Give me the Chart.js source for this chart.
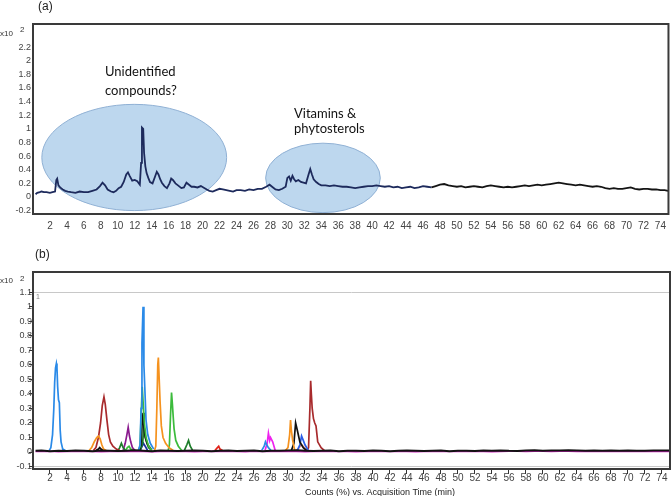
<!DOCTYPE html>
<html><head><meta charset="utf-8">
<script src="https://cdn.jsdelivr.net/npm/chart.js@4/dist/chart.umd.min.js"></script>
<style>
html,body{margin:0;padding:0;background:#fff;}
#wrap{position:relative;width:672px;height:496px;overflow:hidden;}
#c1{position:absolute;left:0;top:0;width:672px;height:240px;}
#c2{position:absolute;left:0;top:240px;width:672px;height:256px;}
</style></head><body>
<div id="wrap"><canvas id="c1" width="672" height="240"></canvas><canvas id="c2" width="672" height="256"></canvas></div>
<script>
// ---------- DATA ----------
const xTickValues=[2,4,6,8,10,12,14,16,18,20,22,24,26,28,30,32,34,36,38,40,42,44,46,48,50,52,54,56,58,60,62,64,66,68,70,72,74];
const topYTickValues=[-0.2,0,0.2,0.4,0.6,0.8,1,1.2,1.4,1.6,1.8,2,2.2];
const botYTickValues=[-0.1,0,0.1,0.2,0.3,0.4,0.5,0.6,0.7,0.8,0.9,1,1.1];

// (a) total ion chromatogram
const topTimes=[0.3,0.5,0.8,1.0,1.3,1.6,2.0,2.3,2.6,2.75,2.85,3.0,3.2,3.5,3.8,4.1,4.5,5.0,5.5,6.0,6.5,7.0,7.5,7.9,8.2,8.5,8.8,9.2,9.5,9.8,10.1,10.4,10.7,11.0,11.2,11.4,11.7,12.0,12.3,12.6,12.75,12.85,13.0,13.1,13.25,13.4,13.6,13.8,14.1,14.4,14.6,14.8,15.0,15.2,15.5,15.8,16.1,16.3,16.5,16.8,17.1,17.5,17.8,18.1,18.4,18.7,19.0,19.4,19.8,20.1,20.5,20.8,21.2,21.6,22.0,22.4,22.8,23.2,23.6,24.0,24.5,25.0,25.5,26.0,26.5,27.0,27.5,27.9,28.2,28.6,29.0,29.4,29.8,30.0,30.2,30.4,30.6,30.8,31.0,31.3,31.6,31.9,32.2,32.5,32.7,32.9,33.1,33.4,33.7,34.0,34.5,35.0,35.5,36.0,36.5,37.0,37.5,38.0,38.5,39.0,39.5,40.0,40.5,41.0,41.5,42.0,42.5,43.0,43.5,44.0,44.5,45.0,45.5,46.0,46.5,47.0,47.5,48.0,48.5,49.0,49.5,50.0,50.5,51.0,51.5,52.0,52.5,53.0,53.5,54.0,54.5,55.0,55.5,56.0,56.5,57.0,57.5,58.0,58.5,59.0,59.5,60.0,60.5,61.0,61.5,62.0,62.5,63.0,63.5,64.0,64.5,65.0,65.5,66.0,66.5,67.0,67.5,68.0,68.5,69.0,69.5,70.0,70.5,71.0,71.5,72.0,72.5,73.0,73.5,74.0,74.5,74.9];
const topValues=[0.04,0.06,0.07,0.08,0.07,0.07,0.06,0.07,0.08,0.25,0.27,0.17,0.14,0.11,0.09,0.08,0.07,0.06,0.08,0.07,0.07,0.09,0.11,0.16,0.21,0.17,0.11,0.08,0.07,0.09,0.13,0.15,0.22,0.33,0.36,0.31,0.24,0.25,0.23,0.18,0.5,1.02,1.0,0.65,0.45,0.35,0.28,0.22,0.2,0.3,0.37,0.33,0.26,0.21,0.16,0.13,0.2,0.27,0.25,0.2,0.17,0.13,0.14,0.21,0.18,0.15,0.15,0.14,0.16,0.14,0.11,0.09,0.08,0.1,0.12,0.11,0.1,0.09,0.08,0.1,0.1,0.09,0.11,0.1,0.12,0.12,0.15,0.18,0.15,0.11,0.1,0.12,0.15,0.28,0.3,0.24,0.31,0.26,0.23,0.25,0.22,0.21,0.2,0.33,0.41,0.33,0.26,0.22,0.19,0.17,0.17,0.16,0.17,0.16,0.15,0.15,0.14,0.13,0.14,0.15,0.16,0.16,0.17,0.16,0.15,0.16,0.14,0.15,0.13,0.14,0.15,0.13,0.14,0.16,0.15,0.14,0.16,0.18,0.19,0.17,0.16,0.15,0.16,0.14,0.15,0.16,0.15,0.14,0.16,0.17,0.16,0.15,0.14,0.15,0.14,0.15,0.16,0.17,0.16,0.17,0.18,0.17,0.18,0.19,0.2,0.21,0.2,0.19,0.18,0.17,0.18,0.17,0.16,0.15,0.16,0.15,0.13,0.12,0.13,0.12,0.12,0.13,0.14,0.12,0.11,0.12,0.12,0.11,0.11,0.1,0.1,0.09];

// highlight ellipses (data units: centre time, centre value, half-width in min, half-height)
const ellipseCx=[11.94,34.2];
const ellipseCy=[0.58,0.28];
const ellipseRx=[10.9,6.76];
const ellipseRy=[0.78,0.51];
const annoLines=[["Unidentified","compounds?"],["Vitamins &","phytosterols"]];

// (b) extracted compound chromatograms
const baseTimes=[0.3,1,2,3,4,5,6,7,8,9,10,11,12,13,14,15,16,17,18,19,20,21,22,23,24,25,26,27,28,29,30,31,32,33,34,35,36,37,38,39,40,41,42,43,44,45,46,47,48,49,50,51,52,53,54,55,56,57,58,59,60,61,62,63,64,65,66,67,68,69,70,71,72,73,74,74.9];
const baseBlack=[0.008,0.010,0.006,0.009,0.007,0.011,0.008,0.006,0.010,0.009,0.007,0.008,0.012,0.009,0.006,0.010,0.008,0.007,0.009,0.011,0.008,0.006,0.009,0.010,0.007,0.008,0.010,0.006,0.009,0.008,0.011,0.012,0.009,0.007,0.008,0.010,0.006,0.009,0.008,0.007,0.010,0.009,0.006,0.008,0.011,0.009,0.007,0.008,0.010,0.006,0.009,0.008,0.007,0.010,0.009,0.011,0.008,0.007,0.010,0.012,0.009,0.011,0.010,0.012,0.011,0.009,0.010,0.008,0.011,0.009,0.010,0.008,0.009,0.011,0.010,0.011];
const baseMagenta=[0.004,0.003,0.005,0.002,0.004,0.003,0.005,0.004,0.002,0.004,0.003,0.005,0.004,0.003,0.002,0.004,0.005,0.003,0.004,0.002,0.003,0.005,0.004,0.003,0.004,0.002,0.005,0.003,0.004,0.003,0.005,0.004,0.002,0.003,0.004,0.005,0.003,0.004,0.002,0.004,0.003,0.005,0.004,0.003,0.004,0.002,0.003,0.005,0.004,0.003,0.004,0.005,0.003,0.004,0.002,0.004,0.006,0.005,0.004,0.006,0.005,0.004,0.006,0.005,0.004,0.005,0.003,0.004,0.005,0.004,0.003,0.004,0.005,0.004,0.003,0.004];

const peakNames=["blue1","orange1","darkred1","black1","dkgreen1","purple1","green1","blue2","green2","black2","dkgreen2","navy1","orange2","green3","dkgreen3","red1","blue3","magenta1","orange3","black3","blue4","salmon1","darkred2"];
const peakColors=["#2a8ae8","#f5921e","#a82a2c","#111111","#1d7d2a","#8a1a8e","#3cbb3c","#2a8ae8","#3cbb3c","#111111","#1d7d2a","#1b2fa0","#f5921e","#3cbb3c","#1d7d2a","#e2231a","#2a8ae8","#ee22ee","#f5921e","#111111","#2a5ee8","#f08a7a","#a82a2c"];
const peakTimes=[
 [1.9,2.1,2.3,2.45,2.55,2.65,2.75,2.82,2.9,3.0,3.1,3.2,3.3,3.5,3.8],
 [6.6,6.9,7.2,7.5,7.7,7.9,8.1,8.3,8.6],
 [7.1,7.4,7.7,7.95,8.15,8.35,8.5,8.7,8.9,9.1,9.4,9.8,10.2],
 [7.4,7.7,7.85,8.0,8.3],
 [10.0,10.2,10.4,10.6,10.9],
 [10.6,10.85,11.05,11.2,11.35,11.5,11.7,12.0],
 [10.9,11.1,11.3,11.5,11.8],
 [12.4,12.6,12.72,12.82,12.95,13.05,13.15,13.3,13.5,13.8,14.2],
 [12.4,12.6,12.72,12.85,12.95,13.1,13.3,13.6,14.0],
 [12.5,12.7,12.85,12.95,13.05,13.2,13.5,13.9],
 [12.6,12.9,13.05,13.2,13.35,13.6,14.0],
 [12.6,12.85,13.0,13.2,13.5],
 [14.3,14.45,14.57,14.68,14.75,14.85,14.95,15.1,15.3,15.6,16.0,16.5],
 [15.9,16.05,16.18,16.3,16.4,16.5,16.6,16.8,17.1,17.5],
 [17.8,18.1,18.3,18.5,18.8],
 [21.4,21.7,21.85,22.0,22.3],
 [26.9,27.2,27.35,27.5,27.7,28.0],
 [27.3,27.55,27.7,27.85,27.95,28.2,28.5],
 [29.7,30.0,30.2,30.3,30.4,30.55,30.8],
 [30.4,30.7,30.9,31.1,31.4,31.8,32.2],
 [31.1,31.4,31.6,31.8,32.0,32.4],
 [31.0,31.3,31.6,31.9,32.3],
 [32.2,32.42,32.58,32.67,32.75,32.85,33.0,33.15,33.3,33.5,33.9,34.3]
];
const peakValues=[
 [0.01,0.03,0.12,0.3,0.48,0.58,0.61,0.58,0.45,0.36,0.34,0.15,0.07,0.02,0.01],
 [0.01,0.03,0.07,0.1,0.11,0.09,0.05,0.02,0.01],
 [0.01,0.03,0.1,0.2,0.32,0.38,0.33,0.22,0.12,0.07,0.04,0.02,0.01],
 [0.01,0.02,0.03,0.02,0.01],
 [0.01,0.03,0.06,0.03,0.01],
 [0.01,0.06,0.12,0.17,0.11,0.07,0.03,0.01],
 [0.01,0.03,0.04,0.02,0.01],
 [0.01,0.05,0.3,0.75,1.0,0.6,0.45,0.22,0.12,0.06,0.02],
 [0.01,0.04,0.25,0.45,0.35,0.2,0.1,0.04,0.01],
 [0.01,0.05,0.2,0.27,0.18,0.1,0.05,0.02],
 [0.01,0.06,0.18,0.12,0.07,0.03,0.01],
 [0.01,0.04,0.06,0.04,0.01],
 [0.01,0.04,0.3,0.6,0.65,0.5,0.35,0.18,0.1,0.06,0.03,0.01],
 [0.01,0.05,0.25,0.41,0.33,0.24,0.16,0.08,0.04,0.01],
 [0.01,0.05,0.08,0.04,0.01],
 [0.01,0.03,0.04,0.02,0.01],
 [0.01,0.04,0.07,0.05,0.03,0.01],
 [0.01,0.06,0.13,0.08,0.1,0.07,0.01],
 [0.01,0.03,0.12,0.22,0.15,0.08,0.01],
 [0.01,0.06,0.2,0.15,0.07,0.03,0.01],
 [0.01,0.05,0.11,0.08,0.05,0.01],
 [0.01,0.03,0.05,0.03,0.01],
 [0.01,0.03,0.3,0.49,0.4,0.3,0.23,0.2,0.18,0.07,0.03,0.01]
];

// ---------- HELPERS ----------
const FONT='"Liberation Sans", Arial, sans-serif';
const pairs=(t,v)=>t.map((x,i)=>({x:x,y:v[i]}));
const fmt=v=>String(+(+v).toFixed(2));
const near=(a,b)=>Math.abs(a-b)<1e-6;

const framePlugin={id:'frame',afterDraw(chart){const a=chart.chartArea,c=chart.ctx;c.save();c.strokeStyle='#3a3a3a';c.lineWidth=2;c.strokeRect(a.left,a.top,a.right-a.left,a.bottom-a.top);c.restore();}};

const ellipsePlugin={id:'ellipses',beforeDatasetsDraw(chart){
  const c=chart.ctx,x=chart.scales.x,y=chart.scales.y;c.save();
  for(let i=0;i<ellipseCx.length;i++){
    const cx=x.getPixelForValue(ellipseCx[i]),cy=y.getPixelForValue(ellipseCy[i]);
    const rx=x.getPixelForValue(ellipseCx[i]+ellipseRx[i])-cx;
    const ry=cy-y.getPixelForValue(ellipseCy[i]+ellipseRy[i]);
    c.beginPath();c.ellipse(cx,cy,rx,ry,0,0,Math.PI*2);
    c.fillStyle='#bdd7ee';c.fill();c.strokeStyle='#8fb0d4';c.lineWidth=1;c.stroke();
  }
  c.restore();
}};

const textPluginTop={id:'textTop',afterDraw(chart){
  const c=chart.ctx;c.save();c.fillStyle='#111';
  c.font='13px Lato, "Open Sans", sans-serif';c.textAlign='left';c.textBaseline='alphabetic';
  c.fillText(annoLines[0][0],105,76);c.fillText(annoLines[0][1],105,95);
  c.fillText(annoLines[1][0],294,118);c.fillText(annoLines[1][1],294,133);
  c.font='12px '+FONT;c.fillStyle='#222';c.fillText('(a)',38,10);
  c.font='8px '+FONT;c.fillStyle='#333';c.fillText('x10',0,36);c.fillText('2',20,32);
  c.restore();
}};
const textPluginBot={id:'textBot',afterDraw(chart){
  const c=chart.ctx;c.save();
  c.font='12px '+FONT;c.fillStyle='#222';c.textAlign='left';c.fillText('(b)',35,18);
  c.font='8px '+FONT;c.fillStyle='#333';c.fillText('x10',0,43);c.fillText('2',20,41);
  c.font='7px '+FONT;c.fillStyle='#888';c.fillText('1',36,59);
  c.font='9px '+FONT;c.fillStyle='#222';c.textAlign='center';
  c.fillText('Counts (%) vs. Acquisition Time (min)',380,255);
  c.restore();
}};

// ---------- CHART (a) ----------
new Chart(document.getElementById('c1'),{
  type:'line',
  data:{datasets:[{data:pairs(topTimes,topValues),borderColor:'#1d2a5c',borderWidth:1.8,pointRadius:0,tension:0,
    segment:{borderColor:ctx=>ctx.p0.parsed.x<47?'#1d2a5c':'#141414'}}]},
  options:{responsive:false,animation:false,events:[],
    layout:{padding:{top:24,right:2,left:0,bottom:0}},
    plugins:{legend:{display:false},tooltip:{enabled:false}},
    scales:{
      x:{type:'linear',min:0,max:74.95,border:{display:false},grid:{display:false,drawTicks:false},
        afterBuildTicks:s=>{s.ticks=xTickValues.map(v=>({value:v}));},
        afterFit:s=>{s.height=26;},
        ticks:{autoSkip:false,maxRotation:0,padding:6,color:'#444',font:{family:FONT,size:10},callback:v=>fmt(v)}},
      y:{type:'linear',min:-0.25,max:2.54,border:{display:false},grid:{display:false,drawTicks:false},
        afterBuildTicks:s=>{s.ticks=topYTickValues.map(v=>({value:v}));},
        afterFit:s=>{s.width=33;},
        ticks:{autoSkip:false,padding:2,color:'#444',font:{family:FONT,size:9},callback:v=>fmt(v)}}
    }},
  plugins:[ellipsePlugin,framePlugin,textPluginTop]
});

// ---------- CHART (b) ----------
const botSets=[
  {data:pairs(baseTimes,baseBlack),borderColor:'#111',borderWidth:2,pointRadius:0,tension:0},
  {data:pairs(baseTimes,baseMagenta),borderColor:'#d020c0',borderWidth:1.5,pointRadius:0,tension:0}
];
peakNames.forEach((n,i)=>botSets.push({label:n,data:pairs(peakTimes[i],peakValues[i]),borderColor:peakColors[i],borderWidth:1.7,pointRadius:0,tension:0}));

new Chart(document.getElementById('c2'),{
  type:'line',
  data:{datasets:botSets},
  options:{responsive:false,animation:false,events:[],
    layout:{padding:{top:32,right:2,left:0,bottom:0}},
    plugins:{legend:{display:false},tooltip:{enabled:false}},
    scales:{
      x:{type:'linear',min:0,max:74.95,border:{display:false},
        grid:{drawOnChartArea:false,drawTicks:true,tickLength:5,tickColor:'#333'},
        afterBuildTicks:s=>{s.ticks=xTickValues.map(v=>({value:v}));},
        afterFit:s=>{s.height=27;},
        ticks:{autoSkip:false,maxRotation:0,padding:-2,color:'#444',font:{family:FONT,size:10},callback:v=>fmt(v)}},
      y:{type:'linear',min:-0.117,max:1.24,border:{display:false},
        grid:{color:c=>(c.tick&&(near(c.tick.value,1.1)||near(c.tick.value,-0.1)))?'#c8c8c8':'rgba(0,0,0,0)',lineWidth:1,drawTicks:true,tickLength:4,tickColor:'#333'},
        afterBuildTicks:s=>{s.ticks=botYTickValues.map(v=>({value:v}));},
        afterFit:s=>{s.width=33;},
        ticks:{autoSkip:false,padding:-3,color:'#444',font:{family:FONT,size:9},callback:v=>fmt(v)}}
    }},
  plugins:[framePlugin,textPluginBot]
});
</script>
</body></html>
